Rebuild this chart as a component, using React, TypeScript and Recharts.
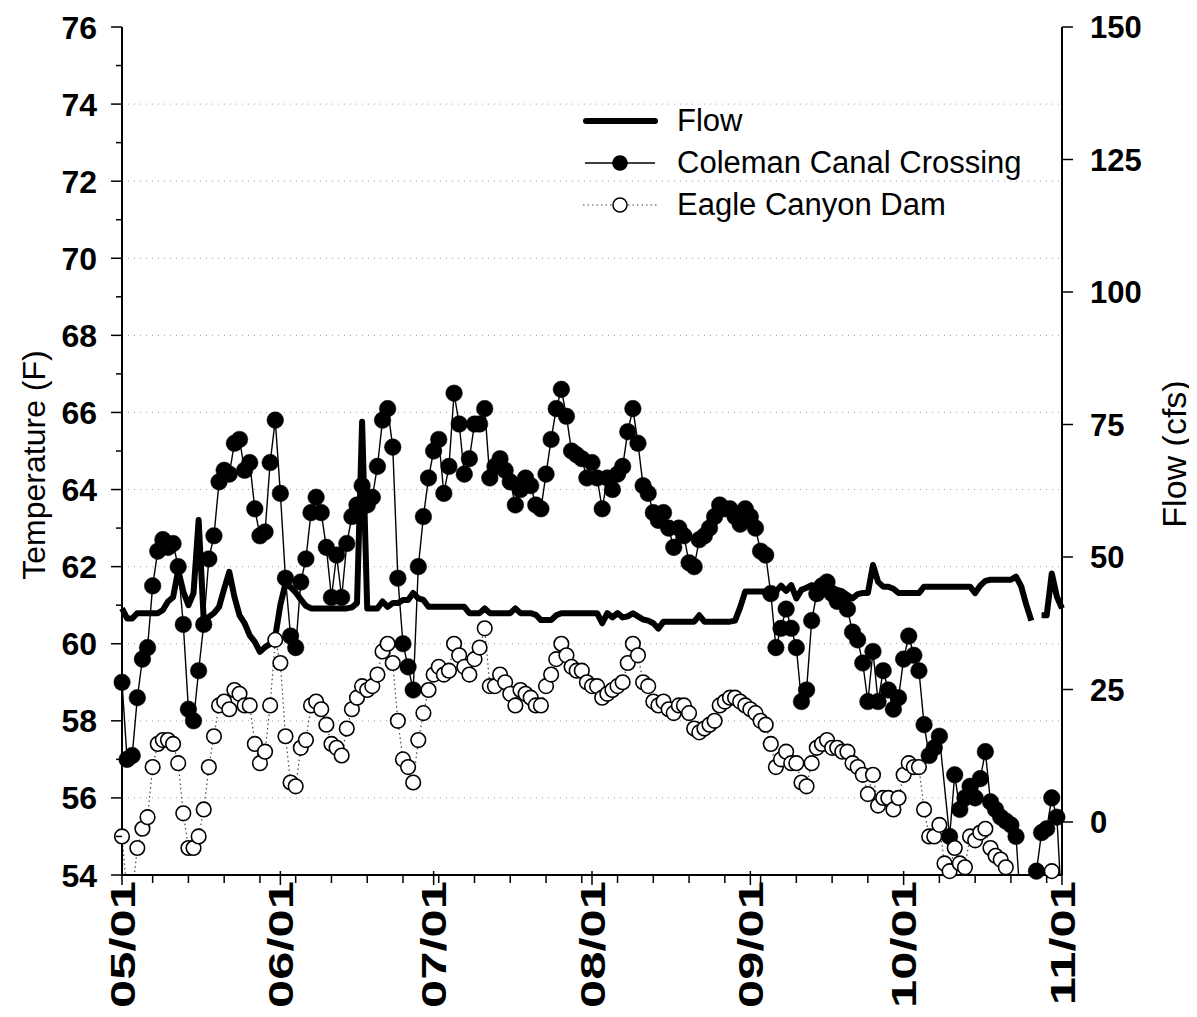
import React from "react";
import { ComposedChart, Line, XAxis, YAxis, CartesianGrid, Legend } from "recharts";

// day index 0 = 05/01 ... 184 = 11/01
const monthTicks = [0, 31, 61, 92, 123, 153, 184];
const monthLabels = ["05/01", "06/01", "07/01", "08/01", "09/01", "10/01", "11/01"];
const weekTicks = [6, 13, 20, 27, 34, 41, 48, 55, 62, 69, 76, 83, 90, 97, 104, 111, 118, 125, 132, 139, 146, 160, 167, 174, 181];

const tempTicks = [54, 55, 56, 57, 58, 59, 60, 61, 62, 63, 64, 65, 66, 67, 68, 69, 70, 71, 72, 73, 74, 75, 76];
const tempGrid = [56, 58, 60, 62, 64, 66, 68, 70, 72, 74];
const flowTicks = [0, 25, 50, 75, 100, 125, 150];

// Coleman Canal Crossing, deg F (daily)
const coleman = [
  59.0, 57.0, 57.1, 58.6, 59.6, 59.9, 61.5, 62.4, 62.7, 62.5,
  62.6, 62.0, 60.5, 58.3, 58.0, 59.3, 60.5, 62.2, 62.8, 64.2,
  64.5, 64.4, 65.2, 65.3, 64.5, 64.7, 63.5, 62.8, 62.9, 64.7,
  65.8, 63.9, 61.7, 60.2, 59.9, 61.6, 62.2, 63.4, 63.8, 63.4,
  62.5, 61.2, 62.3, 61.2, 62.6, 63.3, 63.6, 64.1, 63.6, 63.8,
  64.6, 65.8, 66.1, 65.1, 61.7, 60.0, 59.4, 58.8, 62.0, 63.3,
  64.3, 65.0, 65.3, 63.9, 64.6, 66.5, 65.7, 64.4, 64.8, 65.7,
  65.7, 66.1, 64.3, 64.6, 64.8, 64.5, 64.2, 63.6, 64.0, 64.3,
  64.1, 63.6, 63.5, 64.4, 65.3, 66.1, 66.6, 65.9, 65.0, 64.9,
  64.8, 64.3, 64.7, 64.3, 63.5, 64.3, 64.0, 64.4, 64.6, 65.5,
  66.1, 65.2, 64.1, 63.9, 63.4, 63.2, 63.4, 63.0, 62.5, 63.0,
  62.8, 62.1, 62.0, 62.7, 62.8, 63.0, 63.3, 63.6, 63.5, 63.5,
  63.3, 63.1, 63.5, 63.3, 63.0, 62.4, 62.3, 61.3, 59.9, 60.4,
  60.9, 60.4, 59.9, 58.5, 58.8, 60.6, 61.3, 61.5, 61.6, 61.3,
  61.1, 61.1, 60.9, 60.3, 60.1, 59.5, 58.5, 59.8, 58.5, 59.3,
  58.8, 58.3, 58.6, 59.6, 60.2, 59.7, 59.3, 57.9, 57.1, 57.3,
  57.6, null, 55.0, 56.6, 55.7, 56.0, 56.3, 56.0, 56.5, 57.2,
  55.9, 55.7, 55.5, 55.4, 55.3, 55.0, 53.0, 53.0, 53.0, 54.1,
  55.1, 55.2, 56.0, 55.5, 53.0,
];

// Eagle Canyon Dam, deg F (daily)
const eagle = [
  55.0, 53.5, 53.5, 54.7, 55.2, 55.5, 56.8, 57.4, 57.5, 57.5,
  57.4, 56.9, 55.6, 54.7, 54.7, 55.0, 55.7, 56.8, 57.6, 58.4,
  58.5, 58.3, 58.8, 58.7, 58.4, 58.4, 57.4, 56.9, 57.2, 58.4,
  60.1, 59.5, 57.6, 56.4, 56.3, 57.3, 57.5, 58.4, 58.5, 58.3,
  57.9, 57.4, 57.3, 57.1, 57.8, 58.3, 58.6, 58.9, 58.8, 58.9,
  59.2, 59.8, 60.0, 59.5, 58.0, 57.0, 56.8, 56.4, 57.5, 58.2,
  58.8, 59.2, 59.4, 59.2, 59.3, 60.0, 59.7, 59.4, 59.2, 59.6,
  59.9, 60.4, 58.9, 58.9, 59.2, 59.0, 58.7, 58.4, 58.8, 58.7,
  58.6, 58.4, 58.4, 58.9, 59.2, 59.6, 60.0, 59.7, 59.4, 59.3,
  59.3, 59.0, 58.9, 58.9, 58.6, 58.7, 58.8, 58.9, 59.0, 59.5,
  60.0, 59.7, 59.0, 58.9, 58.5, 58.4, 58.5, 58.3, 58.2, 58.4,
  58.4, 58.2, 57.8, 57.7, 57.8, 57.9, 58.0, 58.4, 58.5, 58.6,
  58.6, 58.5, 58.4, 58.3, 58.2, 58.0, 57.9, 57.4, 56.8, 57.0,
  57.2, 56.9, 56.9, 56.4, 56.3, 56.9, 57.3, 57.4, 57.5, 57.3,
  57.3, 57.2, 57.2, 56.9, 56.8, 56.6, 56.1, 56.6, 55.8, 56.0,
  56.0, 55.7, 56.0, 56.6, 56.9, 56.8, 56.8, 55.7, 55.0, 55.0,
  55.3, 54.3, 54.1, 54.7, 54.3, 54.2, 55.0, 54.9, 55.1, 55.2,
  54.7, 54.5, 54.4, 54.2, 53.5, null, null, null, null, null,
  null, 53.5, 54.1, 53.5, null,
];

// Flow, cfs (daily)
const flow = [
  40.3, 38.4, 38.4, 39.4, 39.4, 39.4, 39.4, 39.4, 40.0, 41.6,
  42.4, 47.5, 43.5, 40.9, 43.2, 57.0, 38.0, 38.7, 39.4, 40.6,
  44.0, 47.2, 42.5, 39.0, 37.5, 35.2, 34.0, 32.1, 33.0, 33.6,
  35.0, 41.0, 45.0, 44.3, 43.3, 42.0, 40.8, 40.3, 40.3, 40.3,
  40.3, 40.3, 40.3, 40.3, 40.3, 40.5, 41.3, 75.5, 40.3, 40.3,
  40.3, 41.6, 40.6, 41.3, 41.3, 41.9, 41.9, 43.2, 42.2, 41.9,
  40.6, 40.6, 40.6, 40.6, 40.6, 40.6, 40.6, 40.6, 39.4, 39.4,
  39.4, 40.3, 39.4, 39.4, 39.4, 39.4, 39.4, 40.3, 39.4, 39.4,
  39.4, 39.1, 38.1, 38.1, 38.1, 39.0, 39.4, 39.4, 39.4, 39.4,
  39.4, 39.4, 39.4, 39.4, 37.5, 39.4, 38.6, 39.4, 38.6, 38.8,
  39.4, 38.8, 38.2, 38.0, 37.5, 36.5, 37.8, 37.8, 37.8, 37.8,
  37.8, 37.8, 37.8, 39.0, 37.8, 37.8, 37.8, 37.8, 37.8, 37.8,
  38.0, 40.5, 43.5, 43.5, 43.5, 43.5, 43.5, 43.5, 43.5, 44.6,
  43.6, 44.7, 42.2, 43.8, 44.2, 44.7, 44.5, 44.7, 43.8, 43.2,
  43.8, 43.5, 42.8, 42.2, 43.0, 43.2, 43.2, 48.5, 45.3, 44.4,
  44.4, 44.0, 43.2, 43.2, 43.2, 43.2, 43.2, 44.4, 44.4, 44.4,
  44.4, 44.4, 44.4, 44.4, 44.4, 44.4, 44.4, 43.2, 44.6, 45.5,
  45.7, 45.7, 45.7, 45.7, 45.7, 46.3, 44.5, 41.0, 38.0, null,
  39.0, 39.0, 46.9, 42.5, 40.3,
];

const data = coleman.map((c, i) => ({
  day: i,
  coleman: c,
  eagle: eagle[i],
  flow: flow[i],
}));

const FONT = "'Liberation Sans', Arial, Helvetica, sans-serif";
const xTicks = [...monthTicks, ...weekTicks].sort((a, b) => a - b);

const LeftTick = (props: any) => {
  const { x, y, payload } = props;
  const v = payload.value;
  const major = v % 2 === 0;
  return (
    <g>
      <line x1={x - (major ? 11 : 6)} x2={x} y1={y} y2={y} stroke="#000" strokeWidth={1.5} />
      {major && (
        <text x={x - 25} y={y} dy="0.36em" textAnchor="end" fontSize={32} fontWeight="bold" fontFamily={FONT} fill="#000">
          {v}
        </text>
      )}
    </g>
  );
};

const RightTick = (props: any) => {
  const { x, y, payload } = props;
  return (
    <g>
      <line x1={x} x2={x + 11} y1={y} y2={y} stroke="#000" strokeWidth={1.5} />
      <text x={x + 28} y={y} dy="0.36em" textAnchor="start" fontSize={31} fontWeight="bold" fontFamily={FONT} fill="#000">
        {payload.value}
      </text>
    </g>
  );
};

const BottomTick = (props: any) => {
  const { x, y, payload } = props;
  const idx = monthTicks.indexOf(payload.value);
  if (idx < 0) {
    return <line x1={x} x2={x} y1={y} y2={y + 8} stroke="#000" strokeWidth={1.5} />;
  }
  return (
    <g>
      <line x1={x} x2={x} y1={y - 4} y2={y + 10} stroke="#000" strokeWidth={1.5} />
      <text
        transform={`translate(${x},${y + 6}) rotate(-90) scale(1.45,1)`}
        dy="0.36em"
        textAnchor="end"
        fontSize={35}
        fontWeight="bold"
        fontFamily={FONT}
        fill="#000"
      >
        {monthLabels[idx]}
      </text>
    </g>
  );
};

const legendRows = [
  { key: "flow", label: "Flow" },
  { key: "coleman", label: "Coleman Canal Crossing" },
  { key: "eagle", label: "Eagle Canyon Dam" },
];

const LegendIcon = ({ kind }: { kind: string }) => (
  <svg width={94} height={42} style={{ display: "block", flex: "none" }}>
    {kind === "flow" && <line x1={3} x2={72} y1={21} y2={21} stroke="#000" strokeWidth={6} strokeLinecap="round" />}
    {kind === "coleman" && (
      <g>
        <line x1={2} x2={72} y1={21} y2={21} stroke="#000" strokeWidth={1.5} />
        <circle cx={37} cy={21} r={7.8} fill="#000" />
      </g>
    )}
    {kind === "eagle" && (
      <g>
        <line x1={0} x2={75} y1={21} y2={21} stroke="#444" strokeWidth={1.2} strokeDasharray="1.5 3" />
        <circle cx={37} cy={21} r={7} fill="#fff" stroke="#000" strokeWidth={1.5} />
      </g>
    )}
  </svg>
);

const renderLegend = () => (
  <div style={{ fontFamily: FONT, fontSize: 31, color: "#000" }}>
    {legendRows.map((r) => (
      <div key={r.key} style={{ display: "flex", alignItems: "center", height: 42 }}>
        <LegendIcon kind={r.key} />
        <span style={{ whiteSpace: "nowrap", lineHeight: "42px" }}>{r.label}</span>
      </div>
    ))}
  </div>
);

const leftTitle = () => (
  <text transform="translate(25,457) rotate(-90)" dy="0.36em" textAnchor="middle" fontSize={32} fontFamily={FONT} fill="#000">
    Temperature (F)
  </text>
);

const rightTitle = () => (
  <text transform="translate(1166,446) rotate(-90)" dy="0.36em" textAnchor="middle" fontSize={34} fontFamily={FONT} fill="#000">
    Flow (cfs)
  </text>
);

export default function App() {
  return (
    <div style={{ width: 1189, height: 1005, background: "#fff" }}>
      <ComposedChart width={1189} height={1005} data={data} margin={{ top: 19, right: 0, bottom: 0, left: 0 }}>
        <CartesianGrid
          yAxisId="temp"
          vertical={false}
          horizontalValues={tempGrid}
          stroke="#a0a0b8"
          strokeDasharray="1 5"
        />
        <XAxis
          dataKey="day"
          type="number"
          domain={[0, 184]}
          ticks={xTicks}
          interval={0}
          height={138}
          tickSize={0}
          tickMargin={0}
          tickLine={false}
          axisLine={{ stroke: "#000", strokeWidth: 2 }}
          tick={BottomTick}
        />
        <YAxis
          yAxisId="temp"
          orientation="left"
          type="number"
          domain={[54, 76]}
          ticks={tempTicks}
          interval={0}
          allowDataOverflow
          width={114}
          tickSize={0}
          tickMargin={0}
          tickLine={false}
          axisLine={{ stroke: "#000", strokeWidth: 2 }}
          tick={LeftTick}
          label={leftTitle}
        />
        <YAxis
          yAxisId="flow"
          orientation="right"
          type="number"
          domain={[-10, 150]}
          ticks={flowTicks}
          interval={0}
          allowDataOverflow
          width={135}
          tickSize={0}
          tickMargin={0}
          tickLine={false}
          axisLine={{ stroke: "#000", strokeWidth: 2 }}
          tick={RightTick}
          label={rightTitle}
        />
        <Legend
          layout="vertical"
          align="center"
          verticalAlign="middle"
          content={renderLegend}
          wrapperStyle={{ left: 575, top: 92, width: 470 }}
        />
        <Line
          yAxisId="flow"
          dataKey="flow"
          name="Flow"
          type="linear"
          stroke="#000"
          strokeWidth={6}
          strokeLinejoin="round"
          dot={false}
          activeDot={false}
          connectNulls={false}
          isAnimationActive={false}
        />
        <Line
          yAxisId="temp"
          dataKey="coleman"
          name="Coleman Canal Crossing"
          type="linear"
          stroke="#000"
          strokeWidth={1.4}
          dot={{ r: 8.3, fill: "#000", stroke: "#000", strokeWidth: 0.5, clipDot: false }}
          activeDot={false}
          connectNulls
          isAnimationActive={false}
        />
        <Line
          yAxisId="temp"
          dataKey="eagle"
          name="Eagle Canyon Dam"
          type="linear"
          stroke="#444"
          strokeWidth={1.2}
          strokeDasharray="1.5 3"
          dot={{ r: 7.3, fill: "#fff", stroke: "#000", strokeWidth: 1.6, strokeDasharray: "0", clipDot: false }}
          activeDot={false}
          connectNulls={false}
          isAnimationActive={false}
        />
      </ComposedChart>
    </div>
  );
}
